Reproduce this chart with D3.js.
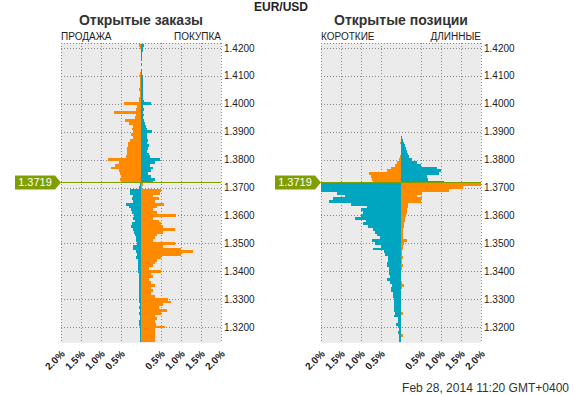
<!DOCTYPE html>
<html>
<head>
<meta charset="utf-8">
<script src="https://cdnjs.cloudflare.com/ajax/libs/d3/7.8.5/d3.min.js"></script>
<style>
  body { margin: 0; background: #fff; }
  svg { display: block; font-family: "Liberation Sans", Arial, sans-serif; }
  .grid line { stroke: #8a8a8a; stroke-dasharray: 1,2; shape-rendering: crispEdges; }
  .bar { shape-rendering: crispEdges; }
</style>
</head>
<body>
<svg class="chart"></svg>
<script>
var pair = "EUR/USD",
    stamp = "Feb 28, 2014 11:20 GMT+0400",
    currentPrice = 1.3719;

var panelTitles = ["Открытые заказы", "Открытые позиции"];
var sideLabels = [["ПРОДАЖА", "ПОКУПКА"], ["КОРОТКИЕ", "ДЛИННЫЕ"]];

var priceTicks = [1.32, 1.33, 1.34, 1.35, 1.36, 1.37, 1.38, 1.39, 1.40, 1.41, 1.42];
var pctTicks = [-2, -1.5, -1, -0.5, 0.5, 1, 1.5, 2];

// price buckets, lower edge of the first (top) one and bucket size
var bucketTop = 1.4205, bucketStep = 0.001;

// open orders, % (left side / right side), from top bucket down
var ordersLeft = [
  .04, .02, .01, 0, .01, 0, .01, 0, .01, 0,
  .02, .04, .03, .02, .03, .02, .04, .03, .03, .04,
  .05, .42, .10, .13, .68, .12, .14, .40, .30, .20,
  .22, .20, .25, .20, .28, .33, .32, .36, .36, .35,
  .37, .82, .55, .65, .75, .55, .52, .50, .52, .50,
  .03, .04, .27, .27, .20, .22, .20, .38, .30, .25,
  .22, .18, .20, .15, .22, .25, .20, .18, .15, .12,
  .12, .10, .20, .20, .12, .10, .12, .08, .08, .08,
  .08, .07, .06, .05, .05, .05, .06, .05, .06, .05,
  .05, .05, .04, .03, .04, .03, .04, .03, .03, .04,
  .05, .03, .03, .02, .02, .03, .02];
var ordersRight = [
  .07, .05, .04, .03, .02, .02, .01, .02, .01, .02,
  .03, .05, .04, .05, .04, .06, .05, .06, .05, .06,
  .07, .25, .06, .08, .05, .07, .06, .08, .10, .12,
  .15, .28, .14, .15, .18, .15, .20, .18, .15, .20,
  .22, .48, .35, .22, .30, .25, .18, .25, .35, .30,
  .05, .03, .50, .48, .30, .45, .35, .57, .40, .30,
  .40, .88, .30, .45, .50, .55, .85, .55, .40, .35,
  .30, .85, .55, 1.0, 1.3, 1.0, .50, .40, .35, .30,
  .20, .50, .25, .30, .20, .25, .35, .25, .30, .25,
  .35, .68, .75, .55, .45, .65, .50, .35, .40, .35,
  .38, .60, .35, .35, .35, .35, .35];

// open positions, % (short / long)
var positionsLeft = [
  0, 0, 0, 0, 0, 0, 0, 0, 0, 0,
  0, 0, 0, 0, 0, 0, 0, 0, 0, 0,
  0, 0, 0, 0, 0, 0, 0, 0, 0, 0,
  0, 0, 0, 0, 0, .02, 0, 0, 0, 0,
  .02, .04, .10, .15, .25, .35, .80, .75, .72, .70,
  2.0, 2.0, 2.0, 1.6, 1.4, 1.7, 1.8, 1.25, .86, 1.0,
  .95, 1.0, 1.15, .88, .95, .82, .70, .65, .60, .52,
  .73, .65, .50, .71, .42, .40, .32, .33, .34, .34,
  .30, .30, .30, .28, .36, .28, .23, .26, .24, .21,
  .21, .18, .18, .17, .17, .17, .15, .18, .07, .08,
  .12, .08, .06, .07, .06, .05, .04];
var positionsRight = [
  0, 0, 0, 0, 0, 0, 0, 0, 0, 0,
  0, 0, 0, 0, 0, 0, 0, 0, 0, 0,
  0, 0, 0, 0, 0, 0, 0, 0, 0, 0,
  0, 0, 0, .03, .05, .08, .10, .12, .15, .18,
  .20, .28, .40, .50, .90, 1.0, .95, .65, .68, 1.07,
  2.0, 1.55, 1.2, .52, .40, .52, .50, .18, .17, .15,
  .14, .12, .10, .09, .08, .07, .05, .05, .06, .04,
  .14, .08, .05, .04, .03, .03, .06, .03, .02, .05,
  .02, .01, .01, .01, .01, .02, .08, .02, .01, .01,
  .01, .01, .01, .01, .01, .01, .04, .01, 0, 0,
  0, .01, 0, 0, .04, 0, 0];

var width = 574, height = 395;
var plot = {top: 43, height: 300, width: 160};
var panelX = [61, 321];

var orange = "#ff8a00", blue = "#00a6c0", green = "#7f9f00";

var y = d3.scaleLinear()
    .domain([1.3143, 1.4218])
    .range([plot.top + plot.height, plot.top]);

var x = d3.scaleLinear()
    .domain([-2, 2])
    .range([0, plot.width])
    .clamp(true);

var svg = d3.select(".chart")
    .attr("width", width)
    .attr("height", height);

svg.append("text")
    .attr("x", 281)
    .attr("y", 11)
    .attr("text-anchor", "middle")
    .style("font", "bold 12px 'Liberation Sans', Arial, sans-serif")
    .attr("fill", "#222")
    .text(pair);

svg.append("text")
    .attr("x", 569)
    .attr("y", 392)
    .attr("text-anchor", "end")
    .style("font-size", "12px")
    .attr("fill", "#333")
    .text(stamp);

function buckets(left, right) {
  return left.map(function(v, i) {
    var lo = bucketTop - i * bucketStep;
    return {lo: lo, hi: lo + bucketStep, left: v, right: right[i],
            above: lo + bucketStep / 2 > currentPrice};
  });
}

function render(k, data) {
  var g = svg.append("g")
      .attr("transform", "translate(" + panelX[k] + ",0)");

  g.append("text")
      .attr("x", plot.width / 2)
      .attr("y", 25)
      .attr("text-anchor", "middle")
      .style("font", "bold 14px 'Liberation Sans', Arial, sans-serif")
      .attr("fill", "#333")
      .text(panelTitles[k]);

  g.append("text")
      .attr("x", 0)
      .attr("y", 40)
      .style("font-size", "10px")
      .attr("fill", "#222")
      .text(sideLabels[k][0]);

  g.append("text")
      .attr("x", plot.width)
      .attr("y", 40)
      .attr("text-anchor", "end")
      .style("font-size", "10px")
      .attr("fill", "#222")
      .text(sideLabels[k][1]);

  g.append("rect")
      .attr("x", 0)
      .attr("y", plot.top)
      .attr("width", plot.width)
      .attr("height", plot.height)
      .attr("fill", "#ebebeb");

  var grid = g.append("g").attr("class", "grid");

  grid.selectAll(".vline")
    .data(pctTicks)
    .enter().append("line")
      .attr("x1", function(d) { return Math.round(x(d)) + 0.5; })
      .attr("x2", function(d) { return Math.round(x(d)) + 0.5; })
      .attr("y1", plot.top)
      .attr("y2", plot.top + plot.height);

  grid.selectAll(".hline")
    .data(priceTicks)
    .enter().append("line")
      .attr("x1", 0)
      .attr("x2", plot.width)
      .attr("y1", function(d) { return Math.round(y(d)) + 0.5; })
      .attr("y2", function(d) { return Math.round(y(d)) + 0.5; });

  grid.append("line")
      .attr("x1", 0)
      .attr("x2", plot.width)
      .attr("y1", plot.top + 0.5)
      .attr("y2", plot.top + 0.5);

  var bars = g.append("g");

  bars.selectAll(".bar.l")
    .data(data.filter(function(d) { return d.left > 0; }))
    .enter().append("rect")
      .attr("class", "bar l")
      .attr("x", function(d) { return x(-d.left); })
      .attr("y", function(d) { return y(d.hi); })
      .attr("width", function(d) { return x(0) - x(-d.left); })
      .attr("height", function(d) { return y(d.lo) - y(d.hi); })
      .attr("fill", function(d) { return d.above ? orange : blue; });

  bars.selectAll(".bar.r")
    .data(data.filter(function(d) { return d.right > 0; }))
    .enter().append("rect")
      .attr("class", "bar r")
      .attr("x", x(0))
      .attr("y", function(d) { return y(d.hi); })
      .attr("width", function(d) { return x(d.right) - x(0); })
      .attr("height", function(d) { return y(d.lo) - y(d.hi); })
      .attr("fill", function(d) { return d.above ? blue : orange; });

  // price axis on the right
  g.selectAll(".plabel")
    .data(priceTicks)
    .enter().append("text")
      .attr("x", plot.width + 3)
      .attr("y", function(d) { return y(d); })
      .attr("dy", ".35em")
      .style("font-size", "10px")
      .attr("fill", "#222")
      .text(d3.format(".4f"));

  // percent axis below
  g.selectAll(".xlabel")
    .data(pctTicks)
    .enter().append("text")
      .attr("transform", function(d) {
        return "translate(" + (x(d) + 2) + "," + (plot.top + plot.height + 9) + ") rotate(-45)";
      })
      .attr("text-anchor", "end")
      .attr("dy", ".35em")
      .style("font", "bold 10px 'Liberation Sans', Arial, sans-serif")
      .attr("fill", "#222")
      .text(function(d) { return Math.abs(d).toFixed(1) + "%"; });

  // current price line and marker
  var py = Math.round(y(currentPrice)) + 0.5;
  g.append("line")
      .attr("x1", 0)
      .attr("x2", plot.width)
      .attr("y1", py)
      .attr("y2", py)
      .attr("stroke", green)
      .attr("stroke-width", 1);

  g.append("path")
      .attr("d", "M0," + py + "L-6," + (py - 7) + "L-46," + (py - 7) +
                 "L-46," + (py + 7) + "L-6," + (py + 7) + "Z")
      .attr("fill", green);

  g.append("text")
      .attr("x", -26)
      .attr("y", py)
      .attr("dy", ".35em")
      .attr("text-anchor", "middle")
      .style("font-size", "11px")
      .attr("fill", "#fff")
      .text(currentPrice.toFixed(4));
}

render(0, buckets(ordersLeft, ordersRight));
render(1, buckets(positionsLeft, positionsRight));
</script>
</body>
</html>
